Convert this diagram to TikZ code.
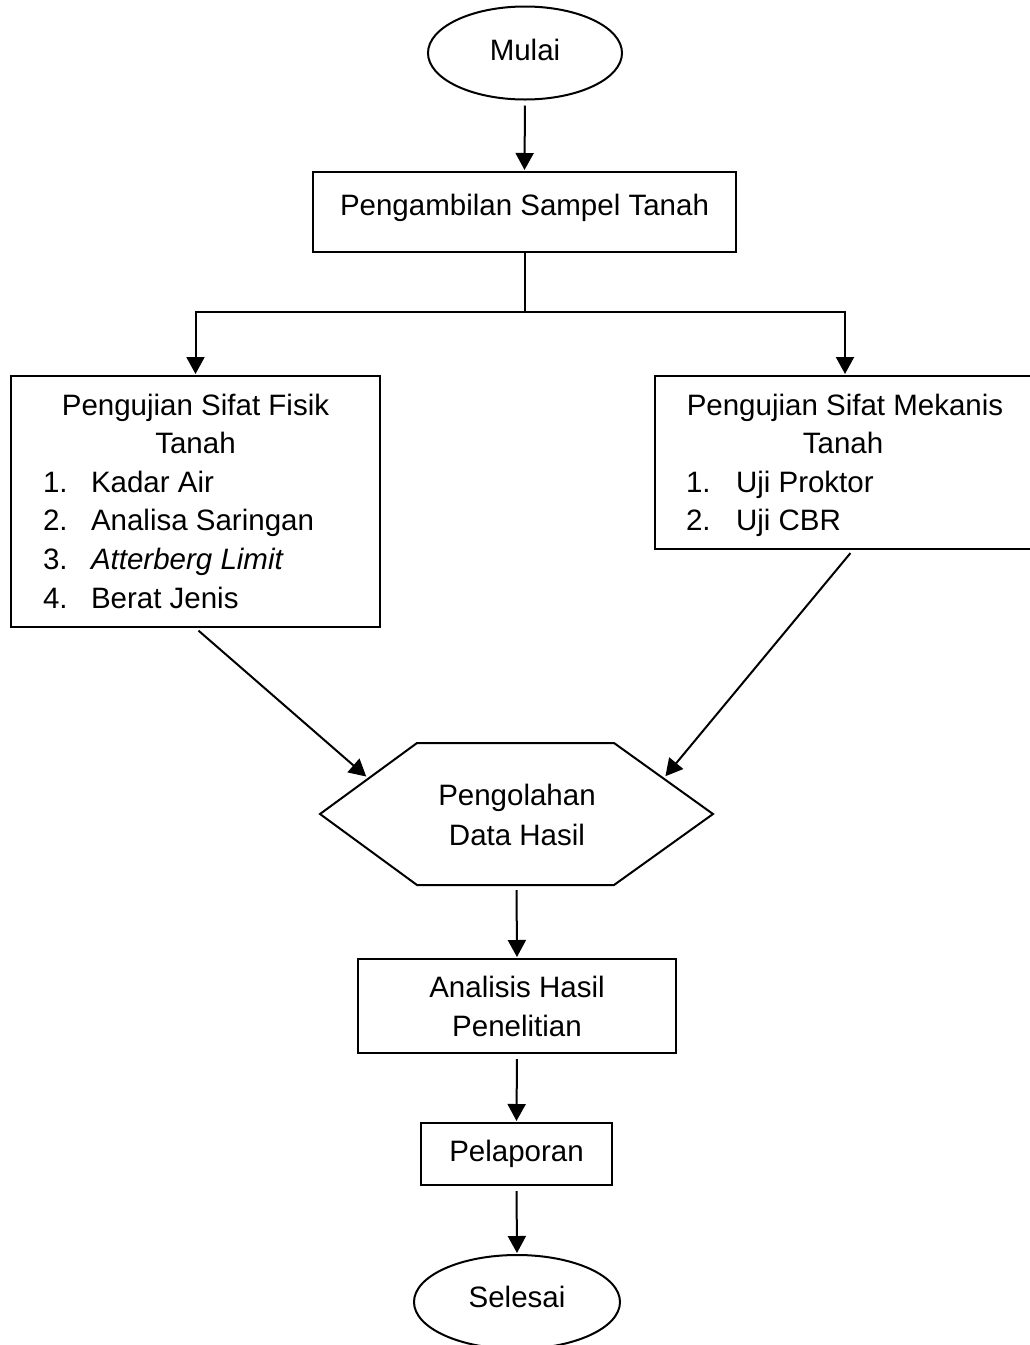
\documentclass[tikz,border=0pt]{standalone}
\usepackage{fontspec}
\setmainfont{Liberation Sans}
\usetikzlibrary{shapes.geometric,arrows.meta,calc}
\begin{document}
\begin{tikzpicture}[x=1pt,y=-1pt,line width=2pt,
  every node/.style={font=\fontsize{29.5}{39}\selectfont,inner sep=0pt},
  boxst/.style={draw,rectangle},
  ovalst/.style={draw,ellipse},
  txt/.style={anchor=base},
  ltxt/.style={anchor=base west},
  arr/.style={-{Triangle[length=17pt,width=18pt]},shorten <=5pt,shorten >=1pt}]
\useasboundingbox (0,0) rectangle (1030,1345);
% shapes
\node[ovalst,minimum width=194,minimum height=93] (mulai) at (525,53) {};
\node[txt] (tmulai) at (525,60) {Mulai};
\node[boxst,minimum width=423,minimum height=80] (pen) at (524.5,212) {};
\node[txt] (tpen) at (524.5,215) {Pengambilan Sampel Tanah};
\node[boxst,minimum width=369,minimum height=251] (fis) at (195.5,501.5) {};
\node[txt] (f1) at (195.5,415) {Pengujian Sifat Fisik};
\node[txt] (f2) at (195.5,453.5) {Tanah};
\node[ltxt] (f3n) at (42,492) {1.};
\node[ltxt] (f3) at (90,492) {Kadar Air};
\node[ltxt] (f4n) at (42,530.5) {2.};
\node[ltxt] (f4) at (90,530.5) {Analisa Saringan};
\node[ltxt] (f5n) at (42,569.5) {3.};
\node[ltxt] (f5) at (90,569.5) {\itshape Atterberg Limit};
\node[ltxt] (f6n) at (42,608) {4.};
\node[ltxt] (f6) at (90,608) {Berat Jenis};
\node[boxst,minimum width=380,minimum height=173] (mek) at (845,462.5) {};
\node[txt] (m1) at (845,415) {Pengujian Sifat Mekanis};
\node[txt] (m2) at (843,453.5) {Tanah};
\node[ltxt] (m3n) at (685,492) {1.};
\node[ltxt] (m3) at (735,492) {Uji Proktor};
\node[ltxt] (m4n) at (685,530.5) {2.};
\node[ltxt] (m4) at (735,530.5) {Uji CBR};
\node[minimum width=391,minimum height=140] (hex) at (516.5,814) {};
\draw (hex.west) -- ($(hex.north west)+(97,0)$) coordinate (htl)
  -- ($(hex.north east)-(99,0)$) coordinate (htr) -- (hex.east)
  -- ($(hex.south east)-(99,0)$) -- ($(hex.south west)+(97,0)$) -- cycle;
\coordinate (hinL) at ($(hex.west)!0.5!(htl)$);
\coordinate (hinR) at ($(hex.east)!0.5!(htr)$);
\node[txt] (h1) at (517,805) {Pengolahan};
\node[txt] (h2) at (517,845) {Data Hasil};
\node[boxst,minimum width=318,minimum height=94] (ana) at (517,1006) {};
\node[txt] (a1) at (517,997) {Analisis Hasil};
\node[txt] (a2) at (517,1036) {Penelitian};
\node[boxst,minimum width=191,minimum height=62] (pel) at (516.5,1154) {};
\node[txt] (tpel) at (516.5,1161) {Pelaporan};
\node[ovalst,minimum width=206,minimum height=94] (sel) at (517,1302) {};
\node[txt] (tsel) at (517,1307) {Selesai};
% connectors
\draw[arr] (mulai.south) -- (pen.north);
\coordinate (split) at (524.5,312);
\draw (pen.south) -- (split);
\draw[arr,shorten <=0pt] (split) -| (fis.north);
\draw[arr,shorten <=0pt] (split) -| (mek.north);
\draw[arr,shorten <=4pt,shorten >=3pt] (fis.south) -- (hinL);
\draw[arr,shorten <=4pt,shorten >=3pt] ([xshift=8pt]mek.south) -- (hinR);
\draw[arr] (hex.south) -- (ana.north);
\draw[arr] (ana.south) -- (pel.north);
\draw[arr] (pel.south) -- (sel.north);
\end{tikzpicture}
\end{document}
